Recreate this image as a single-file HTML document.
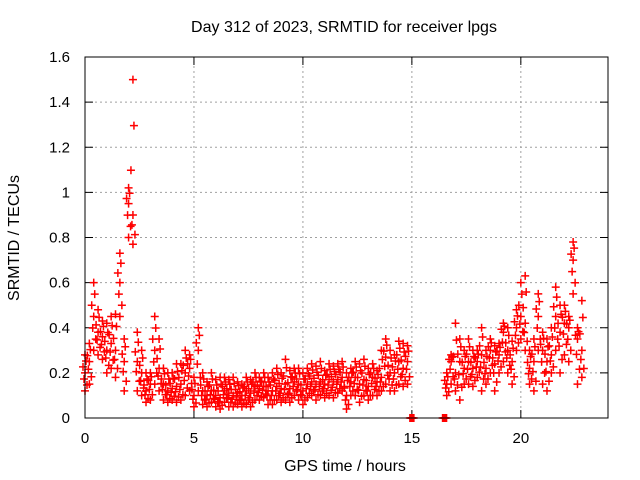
<!DOCTYPE html>
<html><head><meta charset="utf-8"><style>
html,body{margin:0;padding:0;background:#fff;}
svg{display:block;font-family:"Liberation Sans",sans-serif;}
</style></head><body>
<svg id="chart" width="640" height="480" viewBox="0 0 640 480" xmlns="http://www.w3.org/2000/svg">
<rect width="640" height="480" fill="#fff"/>
<text x="344" y="32" font-size="16" text-anchor="middle">Day 312 of 2023, SRMTID for receiver lpgs</text>
<text transform="translate(19,238) rotate(-90)" font-size="16" text-anchor="middle">SRMTID / TECUs</text>
<text x="345" y="471" font-size="16" text-anchor="middle">GPS time / hours</text>
<g id="grid"></g><g id="ticks"></g><g id="marks"></g>
<rect x="85" y="57" width="523" height="361" fill="none" stroke="#000" stroke-width="1"/>
</svg>
<script>
const xTicks=[0,5,10,15,20];
const yTicks=[0,0.2,0.4,0.6,0.8,1,1.2,1.4,1.6];
const yTickLabels=["0","0.2","0.4","0.6","0.8","1","1.2","1.4","1.6"];
const times=[0,0.2,0.4,0.6,0.8,1.0,1.2,1.4,1.6,1.8,2.0,2.2,2.4,2.6,2.8,3.0,3.2,3.4,3.6,3.8,4.0,4.2,4.4,4.6,4.8,5.0,5.2,5.4,5.6,5.8,6.0,6.2,6.4,6.6,6.8,7.0,7.2,7.4,7.6,7.8,8.0,8.2,8.4,8.6,8.8,9.0,9.2,9.4,9.6,9.8,10.0,10.2,10.4,10.6,10.8,11.0,11.2,11.4,11.6,11.8,12.0,12.2,12.4,12.6,12.8,13.0,13.2,13.4,13.6,13.8,14.0,14.2,14.4,14.6,14.8,15.0,16.5,16.6,16.8,17.0,17.2,17.4,17.6,17.8,18.0,18.2,18.4,18.6,18.8,19.0,19.2,19.4,19.6,19.8,20.0,20.2,20.4,20.6,20.8,21.0,21.2,21.4,21.6,21.8,22.0,22.2,22.4,22.6,22.8];
const midVals=[0.2,0.25,0.45,0.38,0.36,0.3,0.33,0.3,0.6,0.25,0.95,0.9,0.25,0.2,0.12,0.15,0.3,0.22,0.15,0.12,0.13,0.14,0.15,0.2,0.22,0.1,0.3,0.12,0.1,0.12,0.1,0.09,0.12,0.11,0.1,0.11,0.1,0.12,0.11,0.14,0.13,0.14,0.12,0.12,0.14,0.13,0.15,0.13,0.16,0.15,0.12,0.15,0.16,0.15,0.16,0.15,0.17,0.16,0.17,0.18,0.1,0.16,0.18,0.15,0.17,0.14,0.18,0.16,0.18,0.27,0.2,0.2,0.25,0.22,0.25,0,0,0.15,0.25,0.2,0.25,0.22,0.25,0.22,0.25,0.28,0.22,0.3,0.24,0.28,0.38,0.3,0.25,0.4,0.45,0.42,0.22,0.25,0.45,0.3,0.25,0.28,0.45,0.38,0.42,0.4,0.7,0.35,0.3];
const loVals=[0.12,0.15,0.3,0.28,0.26,0.2,0.22,0.18,0.45,0.12,0.8,0.77,0.12,0.1,0.07,0.08,0.15,0.12,0.08,0.07,0.08,0.07,0.08,0.1,0.12,0.05,0.12,0.06,0.05,0.07,0.05,0.04,0.07,0.05,0.05,0.06,0.05,0.06,0.05,0.08,0.08,0.09,0.06,0.06,0.08,0.07,0.08,0.07,0.1,0.08,0.06,0.09,0.1,0.08,0.1,0.09,0.1,0.09,0.11,0.12,0.04,0.1,0.1,0.07,0.1,0.08,0.1,0.1,0.12,0.15,0.12,0.12,0.15,0.14,0.15,0,0,0.1,0.15,0.12,0.08,0.15,0.15,0.14,0.18,0.12,0.15,0.2,0.12,0.2,0.25,0.2,0.15,0.3,0.35,0.3,0.15,0.12,0.3,0.15,0.12,0.2,0.3,0.2,0.28,0.25,0.55,0.15,0.18];
const hiVals=[0.28,0.33,0.6,0.48,0.43,0.42,0.45,0.46,0.73,0.35,1.02,1.5,0.38,0.3,0.2,0.2,0.45,0.35,0.22,0.2,0.2,0.24,0.24,0.3,0.28,0.18,0.4,0.2,0.16,0.2,0.17,0.18,0.18,0.17,0.18,0.16,0.15,0.18,0.17,0.2,0.18,0.2,0.18,0.2,0.22,0.2,0.26,0.21,0.22,0.22,0.2,0.22,0.24,0.23,0.25,0.21,0.24,0.23,0.24,0.25,0.2,0.22,0.25,0.24,0.26,0.22,0.24,0.21,0.3,0.35,0.3,0.28,0.34,0.33,0.32,0,0,0.2,0.28,0.42,0.35,0.3,0.35,0.3,0.3,0.4,0.3,0.35,0.32,0.33,0.42,0.4,0.34,0.48,0.6,0.63,0.3,0.35,0.55,0.38,0.35,0.4,0.58,0.5,0.5,0.45,0.78,0.4,0.52];

const X0=85,X1=608,Y0=418,Y1=57,XMAX=24,YMAX=1.6;
const xs=t=>X0+(X1-X0)*t/XMAX;
const ys=v=>Y0-(Y0-Y1)*v/YMAX;
const NS="http://www.w3.org/2000/svg";
const grid=document.getElementById('grid'),ticks=document.getElementById('ticks'),marks=document.getElementById('marks');
function mk(tag,attrs,parent){const e=document.createElementNS(NS,tag);for(const k in attrs)e.setAttribute(k,attrs[k]);parent.appendChild(e);return e;}
yTicks.forEach((v,i)=>{
  const y=ys(v);
  if(v>0&&v<YMAX){const g=mk('line',{x1:X0,x2:X1,y1:y,y2:y,stroke:'#a0a0a0','stroke-dasharray':'2,3'},grid);
  
  }
  const tk=mk('path',{d:`M${X0} ${y}h8M${X1} ${y}h-8`,stroke:'#000'},ticks);
  
  
  const t=mk('text',{x:X0-15,y:y+5,'font-size':15,'text-anchor':'end'},ticks);
  t.textContent=yTickLabels[i];
  
  
});
xTicks.forEach(v=>{
  const x=xs(v);
  if(v>0){const g=mk('line',{x1:x,x2:x,y1:Y0,y2:Y1,stroke:'#a0a0a0','stroke-dasharray':'2,3'},grid);
  
  }
  const tk=mk('path',{d:`M${x} ${Y0}v-8M${x} ${Y1}v8`,stroke:'#000'},ticks);
  
  
  const t=mk('text',{x:x,y:443,'font-size':15,'text-anchor':'middle'},ticks);
  t.textContent=String(v);
  
  
});
function plus(t,v,color,dx){
  const x=xs(t)+dx,y=ys(v);
  const p=mk('path',{d:`M${x-4} ${y}h8M${x} ${y-4}v8`,stroke:color,'stroke-width':1.5},marks);
  
  
}
times.forEach((t,i)=>{
  const lo=loVals[i],mid=midVals[i],hi=hiVals[i];
  plus(t,lo,'#f00',0);
  plus(t,mid,'#f00',0);
  plus(t,hi,'#f00',0);
  plus(t,lo+(mid-lo)*0.33,'#f00',2);
  plus(t,lo+(mid-lo)*0.66,'#f00',-1);
  plus(t,mid+(hi-mid)*0.33,'#f00',-2);
  plus(t,mid+(hi-mid)*0.66,'#f00',1);
});
</script>
</body></html>
